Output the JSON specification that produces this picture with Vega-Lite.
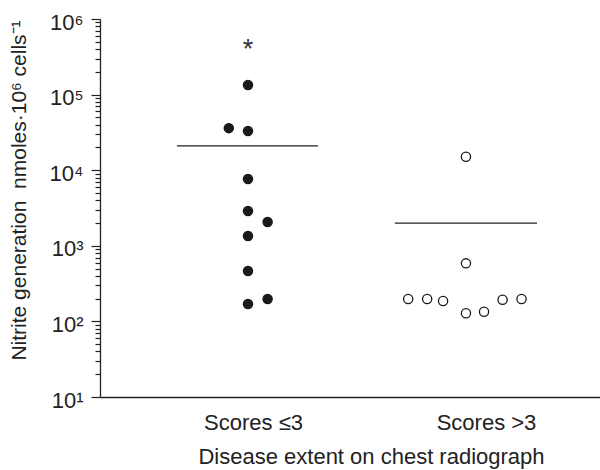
{
  "$schema": "https://vega.github.io/schema/vega-lite/v6.json",
  "width": 500,
  "height": 378,
  "autosize": "none",
  "padding": {"left": 100, "top": 19, "right": 0, "bottom": 73},
  "background": "white",
  "config": {
    "view": {"stroke": null},
    "font": "Liberation Sans",
    "axis": {"domainColor": "#222", "tickColor": "#222", "labelColor": "#222", "titleColor": "#222", "labelFont": "Liberation Sans", "titleFont": "Liberation Sans", "titleFontWeight": "normal", "grid": false}
  },
  "datasets": {
    "pts": [
      {"group": "Scores ≤3", "xpos": 1.0, "value": 134000},
      {"group": "Scores ≤3", "xpos": 0.912, "value": 36000},
      {"group": "Scores ≤3", "xpos": 1.0, "value": 33000},
      {"group": "Scores ≤3", "xpos": 1.0, "value": 7660},
      {"group": "Scores ≤3", "xpos": 1.0, "value": 2880},
      {"group": "Scores ≤3", "xpos": 1.09, "value": 2070},
      {"group": "Scores ≤3", "xpos": 1.0, "value": 1350},
      {"group": "Scores ≤3", "xpos": 1.0, "value": 465},
      {"group": "Scores ≤3", "xpos": 1.0, "value": 170},
      {"group": "Scores ≤3", "xpos": 1.09, "value": 198},
      {"group": "Scores >3", "xpos": 2.0, "value": 15100},
      {"group": "Scores >3", "xpos": 2.0, "value": 586},
      {"group": "Scores >3", "xpos": 1.735, "value": 198},
      {"group": "Scores >3", "xpos": 1.822, "value": 198},
      {"group": "Scores >3", "xpos": 1.895, "value": 186},
      {"group": "Scores >3", "xpos": 2.0, "value": 128},
      {"group": "Scores >3", "xpos": 2.083, "value": 134},
      {"group": "Scores >3", "xpos": 2.168, "value": 193},
      {"group": "Scores >3", "xpos": 2.255, "value": 198}
    ],
    "means": [
      {"group": "Scores ≤3", "from": 0.674, "to": 1.321, "mean": 21000},
      {"group": "Scores >3", "from": 1.674, "to": 2.326, "mean": 1990}
    ],
    "sig": [
      {"group": "Scores ≤3", "xpos": 1.0, "value": 453000, "label": "*"}
    ]
  },
  "layer": [
    {
      "data": {"name": "means"},
      "mark": {"type": "rule", "color": "#222", "strokeWidth": 1.3},
      "encoding": {
        "x": {"field": "from", "type": "quantitative", "scale": {"domain": [0.321, 2.615], "nice": false, "zero": false},
          "axis": {
            "values": [1.023, 2.092],
            "labelExpr": "datum.value < 1.5 ? 'Scores ≤3' : 'Scores >3'",
            "ticks": false,
            "labelFontSize": 22,
            "labelPadding": 15,
            "domainWidth": 1.3,
            "title": "Disease extent on chest radiograph",
            "titleFontSize": 22,
            "titlePadding": 13,
            "titleX": 271,
            "titleAnchor": null
          }},
        "x2": {"field": "to"},
        "y": {"field": "mean", "type": "quantitative",
          "scale": {"type": "log", "domain": [10, 1000000], "nice": false},
          "axis": {
            "values": [10,20,30,40,50,60,70,80,90,100,200,300,400,500,600,700,800,900,1000,2000,3000,4000,5000,6000,7000,8000,9000,10000,20000,30000,40000,50000,60000,70000,80000,90000,100000,200000,300000,400000,500000,600000,700000,800000,900000,1000000],
            "labelExpr": "indexof([10,100,1000,10000,100000,1000000], datum.value) >= 0 ? '10' + ['','¹','²','³','⁴','⁵','⁶'][round(log(datum.value)/LN10)] : ''",
            "tickSize": {"condition": {"test": "indexof([10,100,1000,10000,100000,1000000], datum.value) >= 0", "value": 9}, "value": 5},
            "tickWidth": 1.2,
            "domainWidth": 1.3,
            "labelFontSize": 22,
            "labelPadding": 8,
            "labelOffset": 3,
            "labelOverlap": false,
            "labelBound": false,
            "labelFlush": false,
            "title": "Nitrite generation\u00a0\u00a0nmoles·10⁶ cells⁻¹",
            "titleFontSize": 21,
            "titleX": -71,
            "titleY": 171
          }}
      }
    },
    {
      "data": {"name": "pts"},
      "mark": {"type": "point", "shape": "circle", "filled": true, "stroke": "#1a1a1a", "strokeWidth": 1.3, "opacity": 1},
      "encoding": {
        "x": {"field": "xpos", "type": "quantitative"},
        "y": {"field": "value", "type": "quantitative"},
        "fill": {"field": "group", "type": "nominal", "scale": {"domain": ["Scores ≤3", "Scores >3"], "range": ["#1a1a1a", "#ffffff"]}, "legend": null},
        "size": {"value": 85}
      }
    },
    {
      "data": {"name": "sig"},
      "mark": {"type": "text", "fontSize": 27, "font": "Liberation Sans", "color": "#333", "baseline": "middle", "dy": 5},
      "encoding": {
        "x": {"field": "xpos", "type": "quantitative"},
        "y": {"field": "value", "type": "quantitative"},
        "text": {"field": "label"}
      }
    }
  ]
}
